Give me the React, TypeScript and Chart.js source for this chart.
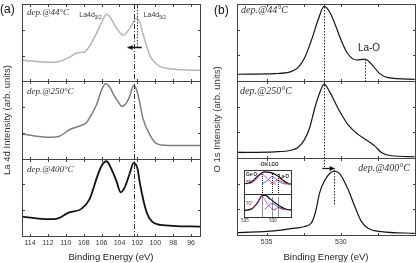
import React, { useEffect, useRef } from "react";
import { Chart, registerables } from "chart.js";

Chart.register(...registerables);

const SANS = "'Liberation Sans', Arial, Helvetica, sans-serif";
const SERIF = "'Liberation Serif', 'Times New Roman', serif";

// ---------- La 4d core level (binding energy in eV, intensity in arb. units) ----------
const la44Energy = [115, 111.85, 110.73, 109.61, 108.71, 107.92, 107.36, 106.57, 106.0, 105.45, 105.11, 104.33, 103.54, 103.09, 102.64, 102.08, 101.74, 101.4, 100.96, 100.62, 100.06, 99.49, 98.71, 97.02, 95];
const la44Intensity = [27, 24.4, 25.5, 30.8, 36.7, 37.6, 44.9, 61.5, 75.6, 86, 83, 68, 59, 64, 71.8, 80.8, 75.6, 61.5, 44.9, 33.3, 24.4, 19.2, 16.7, 14.7, 14.1];

const la250Energy = [115, 111.85, 110.73, 109.61, 108.26, 107.7, 107.36, 106.57, 106.0, 105.56, 105.11, 104.66, 104.1, 103.76, 103.31, 102.86, 102.42, 102.08, 101.74, 101.4, 100.62, 99.83, 98.71, 95];
const la250Intensity = [31.7, 27.3, 28.6, 37, 42.7, 46, 52, 69, 88, 96, 92, 82, 72, 67, 70, 80, 93.6, 88, 72, 52.6, 30.8, 19.2, 17, 16.7];

const la400Energy = [115, 111.85, 111.07, 109.61, 108.26, 107.36, 106.46, 106.0, 105.45, 105.0, 104.33, 103.88, 103.43, 102.86, 102.42, 101.96, 101.74, 100.96, 100.39, 99.49, 95];
const la400Intensity = [25, 21.7, 22, 30.3, 34.7, 46.8, 77, 90, 95.7, 88, 70, 56, 62, 80, 93.5, 85, 68.8, 30, 18.6, 14.3, 12];

const laPeak44 = 102.08;
const laPeakAnnealed = 102.42;

// ---------- O 1s core level ----------
const o44Energy = [537, 534.46, 533.36, 532.89, 532.44, 531.99, 531.54, 531.13, 530.75, 530.31, 529.97, 529.52, 528.96, 528.39, 527.95, 527.38, 526.82, 525.02];
const o44Intensity = [8.7, 9.5, 12, 17.3, 30, 52, 78, 96, 88.7, 69, 52, 34.7, 27, 28, 22, 9.5, 4.3, 2.2];

const o250Energy = [537, 534.46, 533.36, 532.89, 532.44, 532.1, 531.76, 531.36, 531.13, 530.75, 530.19, 529.52, 528.84, 528.17, 527.72, 527.27, 526.6, 525.02];
const o250Intensity = [7.2, 8, 10, 13.5, 24, 38.9, 64, 87, 95, 85, 64, 43, 30.4, 21.9, 15.6, 7.2, 2.9, 1.6];

const o400Energy = [537, 534.46, 533.11, 532.44, 531.99, 531.72, 531.42, 531.09, 530.75, 530.46, 530.08, 529.52, 529.07, 528.62, 528.17, 527.27, 525.02];
const o400Intensity = [3, 5.3, 8.8, 10.9, 15.4, 28.6, 54.9, 70, 79, 82, 79, 59, 37.2, 17.5, 8.8, 4.3, 2.2];

// start of the second scan, shown in red
const o250StartEnergy = [537, 536.5];
const o250StartIntensity = [7.2, 7.0];
const o400StartEnergy = [537, 536.3];
const o400StartIntensity = [3, 3.4];

const oPeak44 = 531.13;
const oPeak400 = 530.46;
const laOShoulder = 528.39;
const oShiftFrom = 531.25;
const oShiftTo = 530.42;

// ---------- angle-resolved O 1s fits (inset) ----------
const fit55EnvEnergy = [535.2, 533.8, 532.7, 531.6, 530.6, 529.5, 528.4, 527.3, 526.8];
const fit55EnvIntensity = [40, 50, 75, 92, 90, 80, 60, 42, 40];
const fit55GeEnergy = [534.0, 533.0, 532.0, 531.0, 530.0, 529.5];
const fit55GeIntensity = [42, 60, 82, 62, 43, 40];
const fit55MidEnergy = [532.0, 531.0, 530.2, 529.3, 528.3, 527.5];
const fit55MidIntensity = [41, 55, 72, 58, 43, 40];
const fit55LaEnergy = [530.5, 529.8, 529.1, 528.3, 527.5, 527.0];
const fit55LaIntensity = [41, 50, 57, 50, 42, 40];

const fit70EnvEnergy = [535.2, 533.8, 532.8, 532.0, 531.4, 530.6, 529.6, 528.5, 527.5, 526.8];
const fit70EnvIntensity = [28, 35, 60, 90, 93, 78, 60, 42, 32, 30];
const fit70GeEnergy = [533.8, 533.0, 532.0, 531.0, 530.0, 529.5];
const fit70GeIntensity = [31, 55, 88, 55, 32, 30];
const fit70MidEnergy = [531.5, 530.8, 530.2, 529.5, 528.5, 528.0];
const fit70MidIntensity = [32, 48, 58, 50, 34, 30];
const fit70LaEnergy = [529.8, 529.1, 528.4, 527.6];
const fit70LaIntensity = [31, 40, 36, 31];

const fitComponentCenters = [532.0, 530.2, 529.1];

// ---------- axis settings ----------
const laRange = [95, 114.9];
const laTickStep = 2;
const oRange = [525, 537];
const oTickStep = 2.5;
const oLabelStep = 5;
const insetRange = [526.8, 535.2];
const insetTickStep = 5;
const intensityMax = 99;
const intensityStep = 33;

const pts = (xs: number[], ys: number[]) => xs.map((x, i) => ({ x, y: ys[i] }));

function line(data: { x: number; y: number }[], yAxisID: string, color: string, width: number) {
  return {
    data,
    yAxisID,
    xAxisID: "x",
    borderColor: color,
    borderWidth: width,
    pointRadius: 0,
    fill: false,
    cubicInterpolationMode: "monotone" as const,
  };
}

function stackedY(weight: number, width: number, max: number, step: number, title?: { text: string; pad: number }) {
  return {
    type: "linear",
    position: "left",
    stack: "panel",
    stackWeight: 1,
    weight,
    min: 0,
    max,
    ticks: { display: false, stepSize: step },
    grid: { display: false, drawTicks: false },
    border: { display: false },
    title: title
      ? { display: true, text: title.text, color: "#333", font: { family: SANS, size: 9.5 }, padding: { top: title.pad, bottom: 0 } }
      : { display: false },
    afterFit: (s: any) => {
      s.width = width;
    },
  };
}

function vline(ctx: CanvasRenderingContext2D, x: number, y0: number, y1: number) {
  const px = Math.round(x) + 0.5;
  ctx.beginPath();
  ctx.moveTo(px, y0);
  ctx.lineTo(px, y1);
  ctx.stroke();
}

function arrow(ctx: CanvasRenderingContext2D, fromX: number, toX: number, y: number) {
  const py = Math.round(y) + 0.5;
  ctx.beginPath();
  ctx.moveTo(fromX, py);
  ctx.lineTo(toX, py);
  ctx.stroke();
  const dir = Math.sign(toX - fromX);
  ctx.beginPath();
  ctx.moveTo(toX, py);
  ctx.lineTo(toX - dir * 5, py - 2.5);
  ctx.lineTo(toX - dir * 5, py + 2.5);
  ctx.closePath();
  ctx.fill();
}

function text(ctx: CanvasRenderingContext2D, s: string, x: number, y: number, font: string, align: CanvasTextAlign = "left", color = "#222") {
  ctx.font = font;
  ctx.fillStyle = color;
  ctx.textAlign = align;
  ctx.textBaseline = "middle";
  ctx.fillText(s, x, y);
}

function subLabel(ctx: CanvasRenderingContext2D, main: string, sub: string, x: number, y: number, size: number) {
  text(ctx, main, x, y, `${size}px ${SANS}`, "left", "#333");
  ctx.font = `${size}px ${SANS}`;
  const w = ctx.measureText(main).width;
  text(ctx, sub, x + w, y + size * 0.4, `${size * 0.7}px ${SANS}`, "left", "#333");
}

// Draws the box of every stacked sub-plot with inward tick marks, then any annotations.
function framePlugin(
  yIds: string[],
  tickLen: number,
  frameColor: string,
  extras?: (chart: any, ctx: CanvasRenderingContext2D) => void,
  whiteBack = false
) {
  return {
    id: "panelFrames",
    beforeDatasetsDraw(chart: any) {
      if (!whiteBack) return;
      const { ctx, chartArea } = chart;
      ctx.save();
      ctx.fillStyle = "#fff";
      ctx.fillRect(chartArea.left, chartArea.top, chartArea.right - chartArea.left, chartArea.bottom - chartArea.top);
      ctx.restore();
    },
    afterDatasetsDraw(chart: any) {
      const { ctx, chartArea } = chart;
      const xs = chart.scales.x;
      const l = Math.round(chartArea.left) + 0.5;
      const r = Math.round(chartArea.right) + 0.5;
      ctx.save();
      ctx.strokeStyle = frameColor;
      ctx.lineWidth = 1;
      for (const id of yIds) {
        const ys = chart.scales[id];
        const t = Math.round(ys.top) + 0.5;
        const b = Math.round(ys.bottom) + 0.5;
        ctx.strokeRect(l, t, r - l, b - t);
        if (tickLen > 0) {
          ctx.beginPath();
          for (const tk of xs.ticks) {
            const px = Math.round(xs.getPixelForValue(tk.value)) + 0.5;
            if (px <= l + 1 || px >= r - 1) continue;
            ctx.moveTo(px, t);
            ctx.lineTo(px, t + tickLen);
            ctx.moveTo(px, b);
            ctx.lineTo(px, b - tickLen);
          }
          for (const tk of ys.ticks) {
            if (tk.value <= ys.min || tk.value >= ys.max) continue;
            const py = Math.round(ys.getPixelForValue(tk.value)) + 0.5;
            ctx.moveTo(l, py);
            ctx.lineTo(l + tickLen, py);
            ctx.moveTo(r, py);
            ctx.lineTo(r - tickLen, py);
          }
          ctx.stroke();
        }
      }
      if (extras) extras(chart, ctx);
      ctx.restore();
    },
  };
}

function bottomAxis(range: number[], step: number, height: number, fontSize: number, callback: (v: number) => string, title?: string) {
  return {
    type: "linear",
    position: "bottom",
    reverse: true,
    min: range[0],
    max: range[1],
    afterFit: (s: any) => {
      s.height = height;
    },
    grid: { display: false, drawTicks: false },
    border: { display: false },
    ticks: {
      stepSize: step,
      includeBounds: false,
      autoSkip: false,
      maxRotation: 0,
      padding: fontSize < 6 ? 1 : 3,
      color: "#333",
      font: { family: SANS, size: fontSize },
      callback: (v: any) => callback(Number(v)),
    },
    title: title
      ? { display: true, text: title, color: "#222", font: { family: SANS, size: 9.5 }, padding: { top: 0, bottom: 0 } }
      : { display: false },
  };
}

const baseOptions = (padding: any) => ({
  responsive: true,
  maintainAspectRatio: false,
  animation: false as const,
  events: [] as any[],
  layout: { padding },
  plugins: { legend: { display: false }, tooltip: { enabled: false }, title: { display: false } },
});

function buildLaPanel(): any {
  const extras = (chart: any, ctx: CanvasRenderingContext2D) => {
    const x = chart.scales.x;
    const y1 = chart.scales.y1;
    const y2 = chart.scales.y2;
    const y3 = chart.scales.y3;
    ctx.strokeStyle = "#333";
    ctx.fillStyle = "#111";
    // La 4d5/2 position after annealing, through all three spectra
    ctx.setLineDash([5, 2, 1, 2]);
    vline(ctx, x.getPixelForValue(laPeakAnnealed), y1.top, y3.bottom);
    // as-deposited La 4d5/2 position
    ctx.setLineDash([1.5, 1.5]);
    vline(ctx, x.getPixelForValue(laPeak44), y1.top, y1.getPixelForValue(43.6));
    ctx.setLineDash([]);
    ctx.strokeStyle = "#111";
    ctx.lineWidth = 1.5;
    arrow(ctx, x.getPixelForValue(101.52), x.getPixelForValue(103.09), y1.getPixelForValue(43.6));
    ctx.lineWidth = 1;

    text(ctx, "(a)", 0, 10, `12px ${SANS}`, "left", "#111");
    const dep = `italic 9px ${SERIF}`;
    text(ctx, "dep.@44°C", x.left + 5, y1.top + 9, dep, "left", "#333");
    text(ctx, "dep.@250°C", x.left + 5, y2.top + 10.5, dep, "left", "#333");
    text(ctx, "dep.@400°C", x.left + 5, y3.top + 10.5, dep, "left", "#333");
    subLabel(ctx, "La4d", "3/2", x.getPixelForValue(108.5), y1.top + 11, 7);
    subLabel(ctx, "La4d", "5/2", x.getPixelForValue(101.3), y1.top + 11, 7);
  };
  return {
    type: "line",
    data: {
      datasets: [
        line(pts(la44Energy, la44Intensity), "y1", "#b5b5b5", 1.5),
        line(pts(la250Energy, la250Intensity), "y2", "#7d7d7d", 1.5),
        line(pts(la400Energy, la400Intensity), "y3", "#111111", 1.8),
      ],
    },
    options: {
      ...baseOptions({ top: 4, right: 8, left: 0, bottom: 0 }),
      scales: {
        x: bottomAxis(laRange, laTickStep, 27, 7, (v) => String(v), "Binding Energy (eV)"),
        y1: stackedY(3, 22, intensityMax, intensityStep),
        y2: stackedY(2, 22, intensityMax, intensityStep, { text: "La 4d Intensity (arb. units)", pad: 2 }),
        y3: stackedY(1, 22, intensityMax, intensityStep),
      },
    },
    plugins: [framePlugin(["y1", "y2", "y3"], 2.5, "#444", extras)],
  };
}

function buildOPanel(): any {
  const extras = (chart: any, ctx: CanvasRenderingContext2D) => {
    const x = chart.scales.x;
    const y1 = chart.scales.y1;
    const y2 = chart.scales.y2;
    const y3 = chart.scales.y3;
    ctx.strokeStyle = "#222";
    ctx.fillStyle = "#111";
    ctx.setLineDash([1.5, 1.5]);
    vline(ctx, x.getPixelForValue(oPeak44), y1.top, y3.top + 9);
    vline(ctx, x.getPixelForValue(laOShoulder), y1.getPixelForValue(28), y1.bottom);
    vline(ctx, x.getPixelForValue(oPeak400), y3.top + 12, y3.getPixelForValue(37));
    ctx.setLineDash([]);
    ctx.lineWidth = 1.3;
    arrow(ctx, x.getPixelForValue(oShiftFrom), x.getPixelForValue(oShiftTo), y3.top + 10);
    ctx.lineWidth = 1;

    text(ctx, "(b)", 6, 11, `12px ${SANS}`, "left", "#111");
    const dep = `italic 10px ${SERIF}`;
    text(ctx, "dep.@44°C", x.left + 4, y1.top + 6.5, dep, "left", "#333");
    text(ctx, "dep.@250°C", x.left + 3, y2.top + 10, dep, "left", "#333");
    text(ctx, "dep.@400°C", x.right - 5, y3.top + 10.5, dep, "right", "#333");
    text(ctx, "La-O", x.getPixelForValue(528.1), y1.top + 44, `10px ${SANS}`, "center", "#222");
  };
  return {
    type: "line",
    data: {
      datasets: [
        line(pts(o44Energy, o44Intensity), "y1", "#151515", 1.2),
        line(pts(o250Energy, o250Intensity), "y2", "#151515", 1.2),
        line(pts(o400Energy, o400Intensity), "y3", "#151515", 1.2),
        line(pts(o250StartEnergy, o250StartIntensity), "y2", "#d02020", 1.2),
        line(pts(o400StartEnergy, o400StartIntensity), "y3", "#d02020", 1.2),
      ],
    },
    options: {
      ...baseOptions({ top: 4, right: 3, left: 0, bottom: 0 }),
      scales: {
        x: bottomAxis(oRange, oTickStep, 28, 7, (v) => (v % oLabelStep === 0 && v > oRange[0] ? String(v) : ""), "Binding Energy (eV)"),
        y1: stackedY(3, 29, intensityMax, intensityStep),
        y2: stackedY(2, 29, intensityMax, intensityStep, { text: "O 1s Intensity (arb. units)", pad: 4 }),
        y3: stackedY(1, 29, intensityMax, intensityStep),
      },
    },
    plugins: [framePlugin(["y1", "y2", "y3"], 2.5, "#444", extras)],
  };
}

function buildInset(): any {
  const extras = (chart: any, ctx: CanvasRenderingContext2D) => {
    const x = chart.scales.x;
    const i1 = chart.scales.i1;
    const i2 = chart.scales.i2;
    ctx.strokeStyle = "#222";
    ctx.setLineDash([1, 1]);
    for (const c of fitComponentCenters) {
      vline(ctx, x.getPixelForValue(c), i1.top + 4, i1.bottom);
      vline(ctx, x.getPixelForValue(c), i2.top + 4, i2.bottom);
    }
    ctx.setLineDash([]);
    const f = `bold 4.5px ${SANS}`;
    text(ctx, "-OH", x.getPixelForValue(531.7), 5, f, "center", "#222");
    text(ctx, "LGO", x.getPixelForValue(529.9), 5, f, "center", "#222");
    text(ctx, "Ge-O", x.left + 2, i1.top + 5, f, "left", "#222");
    text(ctx, "La-O", x.right - 2, i1.top + 7, f, "right", "#222");
    text(ctx, "55°", x.left + 2, i1.top + 13, `4.5px ${SANS}`, "left", "#333");
    text(ctx, "70°", x.left + 2, i2.top + 10, `4.5px ${SANS}`, "left", "#333");
  };
  return {
    type: "line",
    data: {
      datasets: [
        line(pts(fit55GeEnergy, fit55GeIntensity), "i1", "#e020d0", 0.8),
        line(pts(fit55MidEnergy, fit55MidIntensity), "i1", "#2a3ce0", 0.8),
        line(pts(fit55LaEnergy, fit55LaIntensity), "i1", "#e02828", 0.8),
        line(pts(fit55EnvEnergy, fit55EnvIntensity), "i1", "#000000", 1.2),
        line(pts(fit70GeEnergy, fit70GeIntensity), "i2", "#e020d0", 0.8),
        line(pts(fit70MidEnergy, fit70MidIntensity), "i2", "#2a3ce0", 0.8),
        line(pts(fit70LaEnergy, fit70LaIntensity), "i2", "#e02828", 0.8),
        line(pts(fit70EnvEnergy, fit70EnvIntensity), "i2", "#000000", 1.2),
      ],
    },
    options: {
      ...baseOptions({ top: 10, right: 3, left: 0, bottom: 0 }),
      scales: {
        x: bottomAxis(insetRange, insetTickStep, 7, 4.5, (v) => String(v)),
        i1: stackedY(2, 6, 100, 50),
        i2: stackedY(1, 6, 100, 50),
      },
    },
    plugins: [framePlugin(["i1", "i2"], 0, "#333", extras, true)],
  };
}

function ChartBox(props: { left: number; top: number; width: number; height: number; build: () => any }) {
  const ref = useRef<HTMLCanvasElement>(null);
  useEffect(() => {
    const chart = new Chart(ref.current as HTMLCanvasElement, props.build());
    return () => chart.destroy();
  }, []);
  return (
    <div style={{ position: "absolute", left: props.left, top: props.top, width: props.width, height: props.height }}>
      <canvas ref={ref} />
    </div>
  );
}

export default function App() {
  return (
    <div style={{ position: "fixed", left: 0, top: 0, width: 418, height: 263, background: "#fff", overflow: "hidden" }}>
      <ChartBox left={0} top={0} width={208} height={263} build={buildLaPanel} />
      <ChartBox left={208} top={0} width={210} height={263} build={buildOPanel} />
      <ChartBox left={238} top={160} width={56} height={64} build={buildInset} />
    </div>
  );
}
